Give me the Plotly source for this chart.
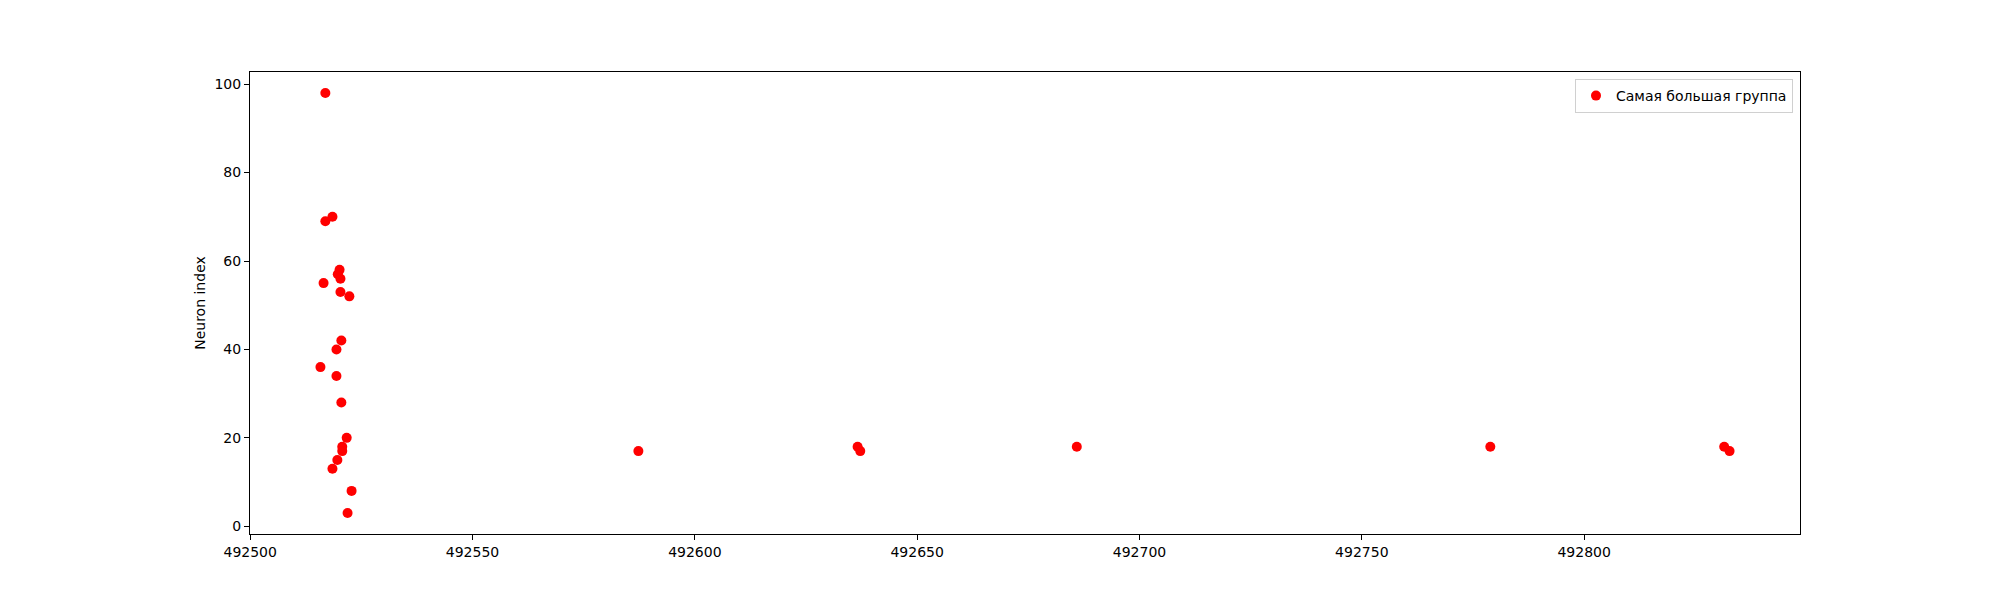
import plotly.graph_objects as go

# spike times of the biggest group and their neuron indices
spike_times = [
    492516.9, 492518.5, 492516.9, 492520.1, 492519.7, 492520.3, 492516.5,
    492520.3, 492522.3, 492520.5, 492519.4, 492515.8, 492519.4, 492520.5,
    492521.7, 492520.7, 492520.7, 492519.6, 492518.5, 492522.8, 492521.9,
    492587.3, 492636.6, 492637.2, 492685.9, 492778.9, 492831.5, 492832.7,
]
neuron_ids = [
    98, 70, 69, 58, 57, 56, 55,
    53, 52, 42, 40, 36, 34, 28,
    20, 18, 17, 15, 13, 8, 3,
    17, 18, 17, 18, 18, 18, 17,
]
x_ticks = [492500, 492550, 492600, 492650, 492700, 492750, 492800]
y_ticks = [0, 20, 40, 60, 80, 100]
series_name = "Самая большая группа"


def padded(vals, frac=0.05):
    lo, hi = min(vals), max(vals)
    pad = (hi - lo) * frac
    return [lo - pad, hi + pad]


fig = go.Figure()
fig.add_trace(go.Scatter(
    x=spike_times, y=neuron_ids, mode="markers", name=series_name,
    marker=dict(color="#ff0000", size=10, line=dict(width=0)),
    showlegend=True,
))

axis_style = dict(
    showline=True, mirror=True, linecolor="black", linewidth=1,
    ticks="outside", ticklen=5, tickwidth=1, tickcolor="black",
    showgrid=False, zeroline=False,
    tickfont=dict(family="DejaVu Sans", size=14, color="black"),
)

# page body adds an 8px offset, so margins are shifted to compensate
fig.update_layout(
    width=2000, height=600,
    margin=dict(l=242, r=208, t=64, b=74),
    paper_bgcolor="white", plot_bgcolor="white",
    font=dict(family="DejaVu Sans", size=14, color="black"),
    legend=dict(
        x=1 - 7 / 1550, y=1 - 7 / 462, xanchor="right", yanchor="top",
        bgcolor="rgba(255,255,255,0.8)", bordercolor="#d0d0d0", borderwidth=1,
        font=dict(family="DejaVu Sans", size=14),
    ),
)
fig.update_xaxes(axis_style, range=padded(spike_times), tickvals=x_ticks,
                 tickformat="d")
fig.update_yaxes(axis_style, range=padded(neuron_ids), tickvals=y_ticks,
                 title=dict(text="Neuron index", standoff=5,
                            font=dict(family="DejaVu Sans", size=14)))

fig.write_html("out.html")
